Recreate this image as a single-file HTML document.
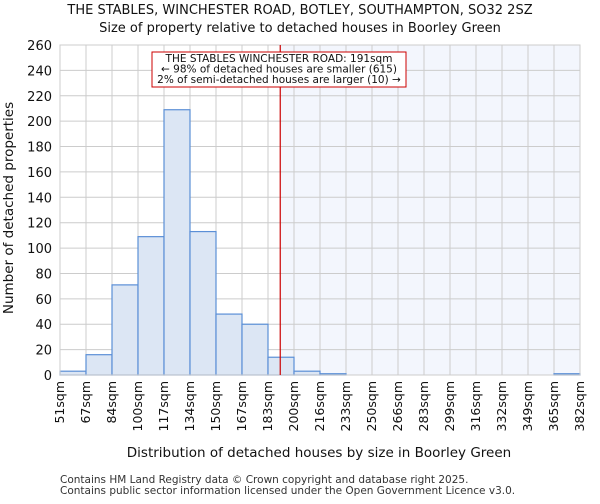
<!DOCTYPE html>
<html><head><meta charset="utf-8"><style>
body{margin:0;background:#fff;font-family:"DejaVu Sans","Liberation Sans",sans-serif;}
</style></head><body>
<svg width="600" height="500" xmlns="http://www.w3.org/2000/svg" font-family="DejaVu Sans, Liberation Sans, sans-serif">
<text x="300" y="14" text-anchor="middle" font-size="13" fill="#111">THE STABLES, WINCHESTER ROAD, BOTLEY, SOUTHAMPTON, SO32 2SZ</text>
<text x="300" y="32" text-anchor="middle" font-size="13" fill="#111">Size of property relative to detached houses in Boorley Green</text>
<g id="plot"></g>
<text x="319" y="457" text-anchor="middle" font-size="13.5" fill="#111">Distribution of detached houses by size in Boorley Green</text>
<text transform="translate(13,208) rotate(-90)" text-anchor="middle" font-size="13.5" fill="#111">Number of detached properties</text>
<text x="60" y="483" font-size="10.5" fill="#333">Contains HM Land Registry data © Crown copyright and database right 2025.</text>
<text x="60" y="494" font-size="10.5" fill="#333">Contains public sector information licensed under the Open Government Licence v3.0.</text>
</svg>
<script>
const categories=["51sqm","67sqm","84sqm","100sqm","117sqm","134sqm","150sqm","167sqm","183sqm","200sqm","216sqm","233sqm","250sqm","266sqm","283sqm","299sqm","316sqm","332sqm","349sqm","365sqm","382sqm"];
const counts=[3,16,71,109,209,113,48,40,14,3,1,0,0,0,0,0,0,0,0,1];
const yTicks=[0,20,40,60,80,100,120,140,160,180,200,220,240,260];
const propertySize=191;
const NS="http://www.w3.org/2000/svg";
const g=document.getElementById('plot');
const L=60,R=580,T=45,B=375,yMax=260;
const n=counts.length,bw=(R-L)/n;
const x=i=>L+i*bw;
const y=v=>B-v/yMax*(B-T);
const edgeVals=categories.map(c=>parseFloat(c));
function xv(v){for(let i=0;i<edgeVals.length-1;i++){if(v>=edgeVals[i]&&v<=edgeVals[i+1])return x(i)+(v-edgeVals[i])/(edgeVals[i+1]-edgeVals[i])*bw;}return R;}
function mk(t,a){const e=document.createElementNS(NS,t);for(const k in a)e.setAttribute(k,a[k]);g.appendChild(e);return e;}
const lx=xv(propertySize);
let e=mk('rect',{x:lx,y:T,width:R-lx,height:B-T,fill:'#f3f6fd'});


yTicks.forEach(t=>{
 let l=mk('line',{x1:L,x2:R,y1:y(t),y2:y(t),stroke:'#cccccc','stroke-width':1});
 
 
 let tx=mk('text',{x:L-8,y:y(t)+5,'text-anchor':'end','font-size':'13',fill:'#111'});
 tx.textContent=t;
 
 
});
categories.forEach((c,i)=>{
 let l=mk('line',{x1:x(i),x2:x(i),y1:T,y2:B,stroke:'#cccccc','stroke-width':1});
 
 
 let tx=mk('text',{transform:`translate(${x(i)+4},${B+6}) rotate(-90)`,'text-anchor':'end','font-size':'12.5',fill:'#111'});
 tx.textContent=c;
 
 
});
counts.forEach((v,i)=>{
 let r=mk('rect',{x:x(i),y:y(v),width:bw,height:B-y(v),fill:'#dce6f4',stroke:'#5b8fd6','stroke-width':1.2});
 
 
});
let ax=mk('rect',{x:L,y:T,width:R-L,height:B-T,fill:'none',stroke:'#cccccc','stroke-width':1});


let ln=mk('line',{x1:lx,x2:lx,y1:T,y2:B,stroke:'#cc0000','stroke-width':1.2});


let box=mk('rect',{x:152,y:52,width:254,height:35,fill:'#fff',stroke:'#cc0000','stroke-width':1});


["THE STABLES WINCHESTER ROAD: 191sqm","← 98% of detached houses are smaller (615)","2% of semi-detached houses are larger (10) →"].forEach((s,i)=>{
 let t=mk('text',{x:279,y:62+i*10.5,'text-anchor':'middle','font-size':'10.5',fill:'#111'});
 t.textContent=s;
 
 
});
</script>
</body></html>
